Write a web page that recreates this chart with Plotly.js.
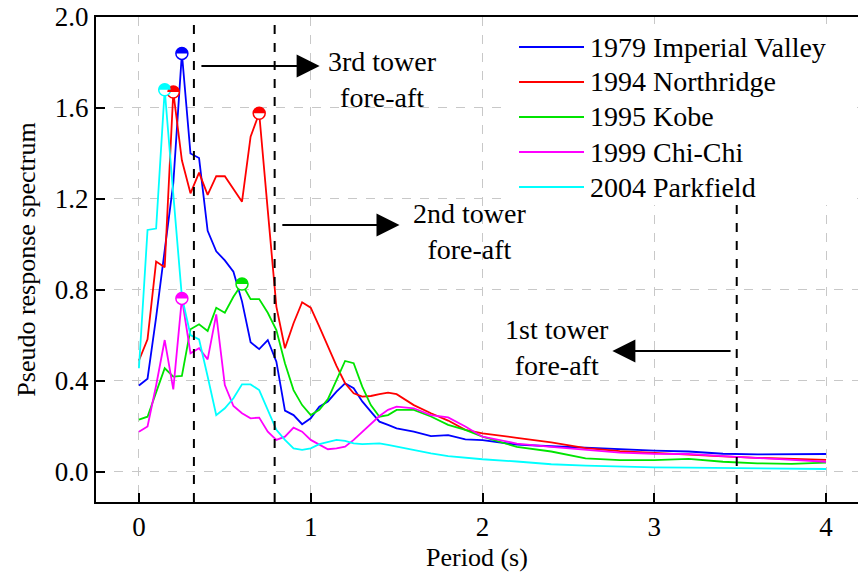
<!DOCTYPE html>
<html>
<head>
<meta charset="utf-8">
<script src="https://cdn.plot.ly/plotly-3.0.1.min.js"></script>
</head>
<body style="margin:0;padding:0;background:#fff">
<div id="plot" style="width:858px;height:579px"></div>
<script>
// Period (s)
var periods = [0, 0.05, 0.1, 0.15, 0.2, 0.25, 0.3, 0.35, 0.4, 0.45, 0.5, 0.55, 0.6, 0.65, 0.7, 0.75, 0.8, 0.85, 0.9, 0.95,
  1.0, 1.05, 1.1, 1.15, 1.2, 1.25, 1.3, 1.35, 1.4, 1.45, 1.5, 1.6, 1.7, 1.8, 1.9, 2.0,
  2.2, 2.4, 2.6, 2.8, 3.0, 3.2, 3.4, 3.6, 3.8, 4.0];

var seriesNames = ['1979 Imperial Valley', '1994 Northridge', '1995 Kobe', '1999 Chi-Chi', '2004 Parkfield'];
var seriesColors = ['#0000ff', '#ff0000', '#00e400', '#ff00ff', '#00ffff'];

var imperialValley = [0.38, 0.41, 0.68, 0.97, 1.27, 1.84, 1.40, 1.38, 1.06, 0.97, 0.93, 0.88, 0.75, 0.57, 0.54, 0.58, 0.485, 0.27, 0.25, 0.21,
  0.236, 0.287, 0.31, 0.353, 0.39, 0.368, 0.31, 0.265, 0.221, 0.207, 0.192, 0.177, 0.158, 0.162, 0.143, 0.14,
  0.12, 0.113, 0.106, 0.10, 0.094, 0.09, 0.08, 0.077, 0.079, 0.079];
var northridge = [0.49, 0.583, 0.925, 0.90, 1.67, 1.37, 1.225, 1.316, 1.218, 1.30, 1.30, 1.245, 1.188, 1.474, 1.577, 1.15, 0.727, 0.544, 0.654, 0.746,
  0.722, 0.639, 0.551, 0.466, 0.39, 0.346, 0.331, 0.334, 0.342, 0.349, 0.342, 0.294, 0.258, 0.226, 0.185, 0.17,
  0.15, 0.13, 0.105, 0.092, 0.084, 0.075, 0.069, 0.062, 0.058, 0.053];
var kobe = [0.23, 0.243, 0.35, 0.456, 0.419, 0.422, 0.627, 0.649, 0.62, 0.722, 0.70, 0.77, 0.826, 0.76, 0.76, 0.70, 0.624, 0.478, 0.36, 0.294,
  0.25, 0.273, 0.32, 0.404, 0.488, 0.478, 0.375, 0.294, 0.243, 0.25, 0.273, 0.273, 0.244, 0.207, 0.185, 0.155,
  0.11, 0.09, 0.06, 0.052, 0.052, 0.058, 0.045, 0.038, 0.036, 0.041];
var chiChi = [0.177, 0.2, 0.38, 0.58, 0.363, 0.763, 0.522, 0.544, 0.495, 0.693, 0.382, 0.29, 0.258, 0.236, 0.239, 0.177, 0.141, 0.155, 0.195, 0.177,
  0.141, 0.119, 0.10, 0.104, 0.111, 0.141, 0.177, 0.214, 0.246, 0.273, 0.287, 0.28, 0.25, 0.24, 0.20, 0.155,
  0.125, 0.11, 0.098, 0.085, 0.08, 0.079, 0.07, 0.062, 0.052, 0.045];
var parkfield = [0.456, 1.064, 1.07, 1.68, 1.22, 0.77, 0.602, 0.583, 0.42, 0.25, 0.28, 0.324, 0.385, 0.385, 0.36, 0.273, 0.185, 0.141, 0.104, 0.097,
  0.104, 0.122, 0.133, 0.141, 0.137, 0.126, 0.122, 0.124, 0.126, 0.119, 0.111, 0.095, 0.082, 0.07, 0.062, 0.056,
  0.046, 0.034, 0.028, 0.023, 0.02, 0.019, 0.017, 0.015, 0.014, 0.013];

// Peak markers (half-filled circles)
var peakSeries = [0, 1, 1, 2, 3, 4];
var peakPeriod = [0.25, 0.2, 0.7, 0.6, 0.25, 0.15];
var peakValue = [1.84, 1.67, 1.577, 0.826, 0.763, 1.68];

// Tower fore-aft natural periods (vertical dashed lines)
var towerPeriods = [0.32, 0.79, 3.48];
var towerLabels = ['3rd tower<br>fore-aft', '2nd tower<br>fore-aft', '1st tower<br>fore-aft'];

var allSeries = [imperialValley, northridge, kobe, chiChi, parkfield];

var FONT = 'Liberation Serif';

var traces = [];
for (var i = 0; i < allSeries.length; i++) {
  traces.push({
    type: 'scatter', mode: 'lines', name: seriesNames[i],
    x: periods, y: allSeries[i],
    line: {color: seriesColors[i], width: 1.8},
    hoverinfo: 'skip', showlegend: false
  });
}
traces.push({
  type: 'scatter', mode: 'markers', showlegend: false, hoverinfo: 'skip',
  x: peakPeriod, y: peakValue,
  marker: {symbol: 'circle', size: 12, color: '#ffffff',
    line: {color: peakSeries.map(function (s) { return seriesColors[s]; }), width: 1.5}}
});

var shapes = [];
towerPeriods.forEach(function (p) {
  shapes.push({type: 'line', xref: 'x', yref: 'paper', x0: p, x1: p, y0: 0, y1: 1,
    line: {color: '#000', width: 2, dash: 'dash'}, layer: 'above'});
});
var r = 6, k = 3.31;
var halfPath = 'M' + (-r) + ',0 C' + (-r) + ',' + k + ' ' + (-k) + ',' + r + ' 0,' + r +
  ' C' + k + ',' + r + ' ' + r + ',' + k + ' ' + r + ',0 Z';
for (var j = 0; j < peakPeriod.length; j++) {
  shapes.push({type: 'path', xref: 'x', yref: 'y', xsizemode: 'pixel', ysizemode: 'pixel',
    xanchor: peakPeriod[j], yanchor: peakValue[j], path: halfPath,
    fillcolor: seriesColors[peakSeries[j]], line: {width: 0}, layer: 'above'});
}

// Legend box (drawn with paper coordinates)
var W = 858, H = 579, ML = 96, MR = 0, MT = 17, MB = 77;
var PW = W - ML - MR, PH = H - MT - MB;
function px2paperX(px) { return (px - ML) / PW; }
function px2paperY(py) { return 1 - (py - MT) / PH; }
shapes.push({type: 'rect', xref: 'paper', yref: 'paper',
  x0: px2paperX(510), x1: px2paperX(857), y0: px2paperY(205), y1: px2paperY(24),
  fillcolor: '#fff', line: {width: 0}, layer: 'above'});

var annFont = {family: FONT, size: 28, color: '#000'};
var annotations = [];
for (var m = 0; m < seriesNames.length; m++) {
  var rowY = px2paperY(47 + 35 * m);
  shapes.push({type: 'line', xref: 'paper', yref: 'paper',
    x0: px2paperX(519), x1: px2paperX(584), y0: rowY, y1: rowY,
    line: {color: seriesColors[m], width: 1.8}, layer: 'above'});
  annotations.push({xref: 'paper', yref: 'paper', x: px2paperX(588), y: rowY,
    xanchor: 'left', yanchor: 'middle', text: seriesNames[m], showarrow: false, font: annFont});
}

annotations = annotations.concat([
  // arrows
  {x: 1.052, y: 1.785, ax: 0.355, ay: 1.785, xref: 'x', yref: 'y', axref: 'x', ayref: 'y', text: '',
    showarrow: true, arrowhead: 2, arrowsize: 2.3, arrowwidth: 2, arrowcolor: '#000', standoff: 0, startstandoff: 0},
  {x: 1.517, y: 1.086, ax: 0.826, ay: 1.086, xref: 'x', yref: 'y', axref: 'x', ayref: 'y', text: '',
    showarrow: true, arrowhead: 2, arrowsize: 2.3, arrowwidth: 2, arrowcolor: '#000', standoff: 0, startstandoff: 0},
  {x: 2.756, y: 0.532, ax: 3.453, ay: 0.532, xref: 'x', yref: 'y', axref: 'x', ayref: 'y', text: '',
    showarrow: true, arrowhead: 2, arrowsize: 2.3, arrowwidth: 2, arrowcolor: '#000', standoff: 0, startstandoff: 0},
  // labels
  {x: 1.419, y: 1.727, xref: 'x', yref: 'y', text: towerLabels[0], showarrow: false, font: annFont, align: 'center'},
  {x: 1.924, y: 1.059, xref: 'x', yref: 'y', text: towerLabels[1], showarrow: false, font: annFont, align: 'center'},
  {x: 2.436, y: 0.549, xref: 'x', yref: 'y', text: towerLabels[2], showarrow: false, font: annFont, align: 'center'}
]);

var layout = {
  width: W, height: H,
  margin: {l: ML, r: MR, t: MT, b: MB},
  paper_bgcolor: '#fff', plot_bgcolor: '#fff',
  font: {family: FONT, size: 27, color: '#000'},
  showlegend: false,
  xaxis: {
    range: [-0.25, 4.186], tickmode: 'array', tickvals: [0, 1, 2, 3, 4], ticktext: ['0', '1', '2', '3', '4'],
    ticks: 'inside', ticklen: 9, tickwidth: 2, tickcolor: '#000',
    showline: true, linecolor: '#000', linewidth: 2, mirror: true,
    showgrid: true, gridcolor: '#c8c8c8', gridwidth: 1, griddash: 'dash', zeroline: false,
    tickfont: {family: FONT, size: 27, color: '#000'},
    title: {text: 'Period (s)', font: {family: FONT, size: 26, color: '#000'}, standoff: 6}
  },
  yaxis: {
    range: [-0.132, 2.0], tickmode: 'array', tickvals: [0, 0.4, 0.8, 1.2, 1.6, 2.0],
    ticktext: ['0.0', '0.4', '0.8', '1.2', '1.6', '2.0'],
    ticks: 'inside', ticklen: 9, tickwidth: 2, tickcolor: '#000',
    showline: true, linecolor: '#000', linewidth: 2,
    showgrid: true, gridcolor: '#c8c8c8', gridwidth: 1, griddash: 'dash', zeroline: false,
    tickfont: {family: FONT, size: 27, color: '#000'},
    title: {text: 'Pseudo response spectrum', font: {family: FONT, size: 26, color: '#000'}, standoff: 12}
  },
  shapes: shapes,
  annotations: annotations
};

Plotly.newPlot('plot', traces, layout, {staticPlot: true, displayModeBar: false});
</script>
</body>
</html>
